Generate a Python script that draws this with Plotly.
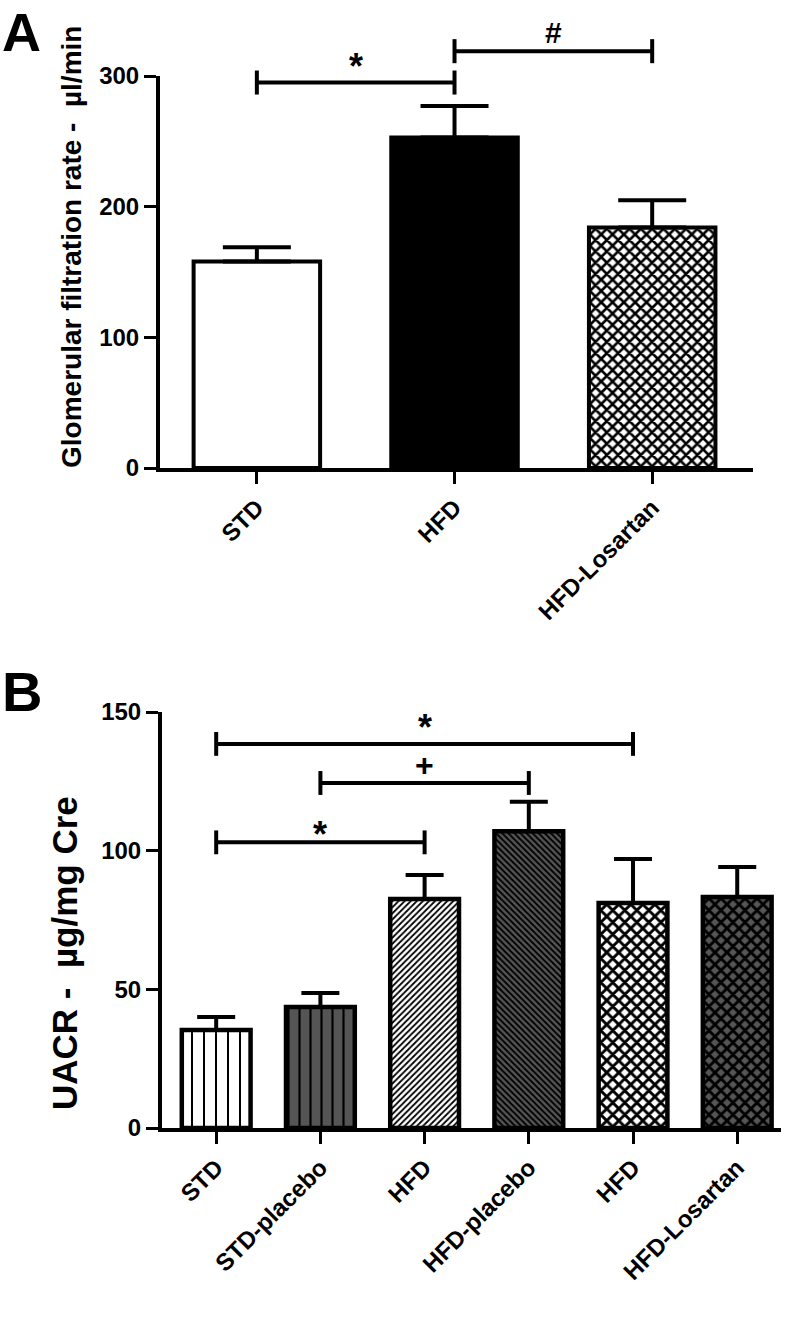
import plotly.graph_objects as go

# ---------------- data ----------------
cats_A = ["STD", "HFD", "HFD-Losartan"]
gfr_mean = [158, 253, 184]
gfr_sem = [11, 24, 21]

cats_B = ["STD", "STD-placebo", "HFD", "HFD-placebo", "HFD", "HFD-Losartan"]
uacr_mean = [35.3, 43.6, 82.6, 107, 81.1, 83.3]
uacr_sem = [4.7, 5.1, 8.6, 10.6, 15.9, 10.8]

# significance brackets: (from index, to index, height, label)
sig_A_from = [0, 1]
sig_A_to = [1, 2]
sig_A_h = [295, 319]
sig_A_lab = ["*", "#"]

sig_B_from = [0, 1, 0]
sig_B_to = [4, 3, 2]
sig_B_h = [138.5, 124.4, 103]
sig_B_lab = ["*", "+", "*"]

yticks_A = [0, 100, 200, 300]
yticks_B = [0, 50, 100, 150]

# ---------------- styles ----------------
W, H = 798, 1317
FONT = "Arial, Liberation Sans, Helvetica, sans-serif"
GRAY = "#555555"
BLK = "black"

# per-bar fill styles
style_A = [
    dict(bg="white", shape="", size=8, sol=0.5),
    dict(bg=BLK, shape="", size=8, sol=0.5),
    dict(bg="white", shape="x", size=8, sol=0.55),
]
style_B = [
    dict(bg="white", shape="|", size=12, sol=0.17),
    dict(bg=GRAY, shape="|", size=11, sol=0.2),
    dict(bg="white", shape="/", size=4.3, sol=0.42),
    dict(bg=GRAY, shape="\\", size=4.3, sol=0.45),
    dict(bg="white", shape="x", size=8.5, sol=0.55),
    dict(bg=GRAY, shape="x", size=8.5, sol=0.55),
]

fig = go.Figure()


def add_bars(means, sems, styles, xa, ya, width, lw, capw):
    for i, (m, s, st) in enumerate(zip(means, sems, styles)):
        pat = dict(shape=st["shape"], fgcolor=BLK, bgcolor=st["bg"], fgopacity=1,
                   size=st["size"], solidity=st["sol"], fillmode="overlay")
        fig.add_trace(go.Bar(
            x=[i], y=[m], width=width,
            marker=dict(color=st["bg"], line=dict(color=BLK, width=lw), pattern=pat),
            error_y=dict(type="data", array=[s], arrayminus=[0], symmetric=False,
                         color=BLK, thickness=4, width=capw),
            xaxis=xa, yaxis=ya, showlegend=False,
        ))


add_bars(gfr_mean, gfr_sem, style_A, "x", "y", 0.64, 4, 34)
add_bars(uacr_mean, uacr_sem, style_B, "x2", "y2", 0.66, 4.5, 19)


# brackets
def add_brackets(frm, to, hs, labs, xa, ya, tick, yshifts, sizes):
    for a, b, h, lab, ys, fs in zip(frm, to, hs, labs, yshifts, sizes):
        fig.add_trace(go.Scatter(
            x=[a, a, None, a, b, None, b, b],
            y=[h - tick, h + tick, None, h, h, None, h - tick, h + tick],
            mode="lines", line=dict(color=BLK, width=4),
            xaxis=xa, yaxis=ya, showlegend=False, hoverinfo="skip",
        ))
        fig.add_annotation(x=(a + b) / 2, y=h, xref=xa, yref=ya, text=lab,
                           showarrow=False, yanchor="bottom", yshift=ys,
                           font=dict(family=FONT, size=fs, color=BLK, weight="bold"))


add_brackets(sig_A_from, sig_A_to, sig_A_h, sig_A_lab, "x", "y3", 9.2, [-6, 0], [36, 30])
add_brackets(sig_B_from, sig_B_to, sig_B_h, sig_B_lab, "x2", "y2", 4.3, [-6, -2, -15], [36, 32, 36])

# geometry (pixels -> paper)
A_y0, A_y1 = 468, 76
B_y0, B_y1 = 1128, 712
A_dom = [1 - A_y0 / H, 1 - A_y1 / H]
B_dom = [1 - B_y0 / H, 1 - B_y1 / H]
A_top = 300 * A_y0 / (A_y0 - A_y1)

tickfont = dict(family=FONT, size=24, color=BLK, weight="bold")
axis_common = dict(showgrid=False, zeroline=False, showline=True, linecolor=BLK,
                   linewidth=4, ticks="outside", ticklen=12, tickwidth=3,
                   tickcolor=BLK, tickfont=tickfont, automargin=False)

fig.update_layout(
    width=W, height=H,
    margin=dict(l=0, r=0, t=0, b=0, pad=0, autoexpand=False),
    paper_bgcolor="white", plot_bgcolor="rgba(0,0,0,0)",
    barmode="overlay", showlegend=False,
    xaxis=dict(domain=[160 / W, 753 / W], range=[-0.49, 2.51], anchor="y",
               tickmode="array", tickvals=list(range(len(cats_A))), ticktext=cats_A,
               tickangle=-45, **axis_common),
    yaxis=dict(domain=A_dom, range=[0, 300], anchor="x",
               tickmode="array", tickvals=yticks_A, **axis_common),
    yaxis3=dict(domain=[A_dom[0], 1.0], range=[0, A_top], anchor="x", visible=False),
    xaxis2=dict(domain=[162 / W, 781 / W], range=[-0.52, 5.42], anchor="y2",
                tickmode="array", tickvals=list(range(len(cats_B))), ticktext=cats_B,
                tickangle=-45, **axis_common),
    yaxis2=dict(domain=B_dom, range=[0, 150], anchor="x2",
                tickmode="array", tickvals=yticks_B, **axis_common),
)

# axis titles
NB = "\u00a0"
fig.add_annotation(x=72 / W, y=1 - 247 / H, xref="paper", yref="paper",
                   text="Glomerular filtration rate -" + NB + NB + "\u00b5l/min",
                   textangle=-90, showarrow=False, xanchor="center", yanchor="middle",
                   font=dict(family=FONT, size=28, color=BLK, weight="bold"))
fig.add_annotation(x=64 / W, y=1 - 953 / H, xref="paper", yref="paper",
                   text="UACR" + NB + "-" + NB + NB + "\u00b5g/mg" + NB + "Cre",
                   textangle=-90, showarrow=False, xanchor="center", yanchor="middle",
                   font=dict(family=FONT, size=35, color=BLK, weight="bold"))

# panel letters
fig.add_annotation(x=0, y=1, xref="paper", yref="paper", xanchor="left", yanchor="top",
                   text="A", showarrow=False, yshift=0, xshift=0,
                   font=dict(family=FONT, size=54, color=BLK, weight="bold"))
fig.add_annotation(x=0, y=1 - 662 / H, xref="paper", yref="paper", xanchor="left", yanchor="top",
                   text="B", showarrow=False, yshift=4, xshift=0,
                   font=dict(family=FONT, size=56, color=BLK, weight="bold"))

fig.write_html("out.html", config={"displayModeBar": False},
               post_script="document.body.style.margin='0';document.body.style.padding='0';")
